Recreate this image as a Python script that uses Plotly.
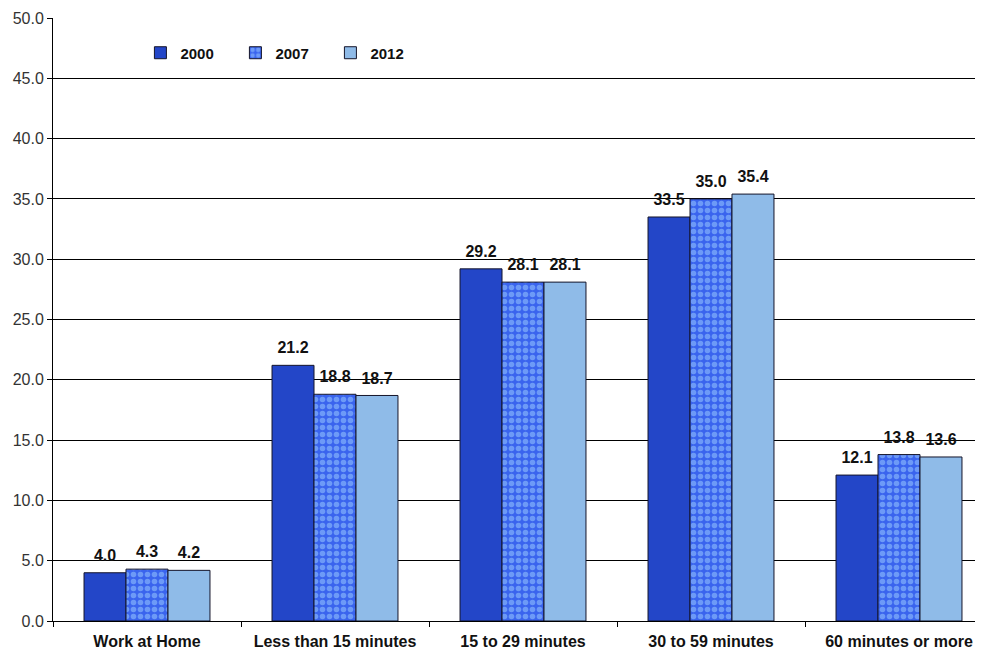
import plotly.graph_objects as go

categories = ["Work at Home", "Less than 15 minutes", "15 to 29 minutes", "30 to 59 minutes", "60 minutes or more"]
years = ["2000", "2007", "2012"]
v2000 = [4.0, 21.2, 29.2, 33.5, 12.1]
v2007 = [4.3, 18.8, 28.1, 35.0, 13.8]
v2012 = [4.2, 18.7, 28.1, 35.4, 13.6]
yticks = [0, 5, 10, 15, 20, 25, 30, 35, 40, 45, 50]

font = "Liberation Sans, Arial, sans-serif"
outline = dict(color="#15152a", width=1)
markers = [
    dict(color="#2346c8", line=outline),
    dict(color="#4a78f0", line=outline,
         pattern=dict(shape=".", fgcolor="#9fd0ff", bgcolor="#3a64ee", size=7, solidity=0.5)),
    dict(color="#8fbbe8", line=outline),
]
series = [v2000, v2007, v2012]

fig = go.Figure()
for name, vals, mk in zip(years, series, markers):
    fig.add_trace(go.Bar(name=name, x=categories, y=vals, marker=mk, offsetgroup=name))
for name, vals in zip(years, series):
    fig.add_trace(go.Scatter(x=categories, y=vals, mode="markers+text", showlegend=False,
                             text=[f"{v:.1f}" for v in vals], textposition="top center",
                             marker=dict(size=11, color="rgba(0,0,0,0)"),
                             textfont=dict(family=font, size=16, color="#111111", weight="bold"),
                             hoverinfo="skip", cliponaxis=False, offsetgroup=name))

fig.update_layout(
    width=985, height=645,
    margin=dict(l=45, r=0, t=10, b=32),
    paper_bgcolor="white", plot_bgcolor="white",
    barmode="group", bargap=0.33, bargroupgap=0.0,
    scattermode="group", scattergap=0.33,
    font=dict(family=font, size=16, color="#111111"),
    showlegend=True,
    legend=dict(orientation="h", x=0.093, y=0.942, xanchor="left", yanchor="middle",
                font=dict(family=font, size=15, color="#111111", weight="bold"),
                itemwidth=30, bgcolor="rgba(0,0,0,0)", entrywidth=50),
)
fig.update_yaxes(range=[0, 50], tickvals=yticks, ticktext=[f"{t:.1f}" for t in yticks],
                 showgrid=True, gridcolor="#000000", gridwidth=1,
                 showline=True, linecolor="#000000", linewidth=1,
                 ticks="outside", ticklen=5, tickcolor="#000000",
                 tickfont=dict(family=font, size=16, color="#333333"), zeroline=False)
fig.update_xaxes(showline=True, linecolor="#000000", linewidth=1, ticks="outside", ticklen=5,
                 tickson="boundaries", tickcolor="#000000", ticklabelstandoff=6,
                 tickfont=dict(family=font, size=16, color="#111111", weight="bold"))
fig.write_html("out.html")
